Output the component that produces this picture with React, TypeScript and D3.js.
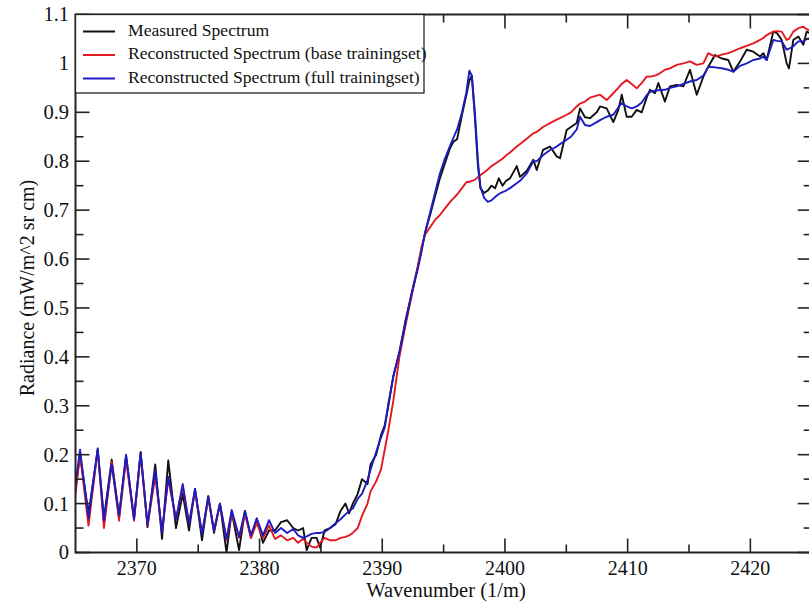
import React from "react";
import * as d3 from "d3";

const wavenumber = [
  2365.0, 2365.37, 2366.06, 2366.81, 2367.32, 2367.95, 2368.55, 2369.12, 2369.77, 2370.31,
  2370.87, 2371.5, 2372.05, 2372.56, 2373.19, 2373.74, 2374.25, 2374.74, 2375.31, 2375.82,
  2376.29, 2376.77, 2377.31, 2377.73, 2378.33, 2378.81, 2379.3, 2379.77, 2380.28, 2380.77,
  2381.26, 2381.75, 2382.25, 2382.74, 2383.14, 2383.55, 2383.84, 2384.24, 2384.65, 2384.94,
  2385.3, 2385.75, 2386.2, 2386.6, 2387.0, 2387.3, 2387.6, 2388.0, 2388.35, 2388.8,
  2389.05, 2389.5, 2389.9, 2390.2,
  2390.5, 2390.9, 2391.4, 2391.9, 2392.4, 2392.9, 2393.2, 2393.5, 2393.9, 2394.3,
  2394.7, 2395.1, 2395.5, 2395.8, 2396.1, 2396.5, 2396.85, 2397.1, 2397.3, 2397.55,
  2397.8, 2398.0, 2398.3, 2398.6, 2398.9, 2399.2, 2399.5, 2399.8, 2400.1,
  2400.41, 2400.96, 2401.23, 2401.77, 2402.31, 2402.59, 2403.1, 2403.67, 2404.22, 2404.49,
  2405.03, 2405.38, 2405.85, 2406.12, 2406.52, 2406.93, 2407.48, 2407.75, 2408.29, 2408.83,
  2409.24, 2409.52, 2409.92, 2410.33, 2410.74, 2411.15, 2411.55, 2411.82, 2412.23, 2412.5,
  2413.04, 2413.45, 2414.0, 2414.54, 2415.08, 2415.63, 2416.17, 2416.57, 2417.12, 2417.67,
  2418.2, 2418.61, 2419.16, 2419.7, 2420.24, 2420.79, 2421.06, 2421.33, 2421.87, 2422.17,
  2422.56, 2422.96, 2423.15, 2423.5, 2423.91, 2424.32, 2424.59, 2425.0,
];

const measured = [
  0.13, 0.2, 0.08, 0.21, 0.07, 0.19, 0.075, 0.197, 0.07, 0.205,
  0.052, 0.18, 0.028, 0.188, 0.05, 0.12, 0.045, 0.13, 0.025, 0.115,
  0.04, 0.1, 0.0, 0.083, 0.005, 0.085, 0.03, 0.068, 0.02, 0.045,
  0.045, 0.062, 0.066, 0.05, 0.045, 0.05, 0.005, 0.03, 0.03, 0.01,
  0.045, 0.05, 0.058, 0.085, 0.1, 0.08, 0.1, 0.12, 0.15, 0.14,
  0.18, 0.2, 0.24, 0.26,
  0.3, 0.36, 0.41, 0.475, 0.53, 0.585, 0.62, 0.655, 0.69, 0.728,
  0.765, 0.795, 0.825, 0.84, 0.845, 0.895, 0.935, 0.965, 0.975, 0.89,
  0.79, 0.745, 0.735, 0.74, 0.75, 0.745, 0.765, 0.75, 0.76,
  0.765, 0.79, 0.768, 0.78, 0.803, 0.782, 0.823, 0.83, 0.81, 0.806,
  0.864, 0.87, 0.878, 0.908, 0.89, 0.888, 0.9, 0.912, 0.908, 0.88,
  0.905, 0.936, 0.891, 0.891, 0.905, 0.9, 0.93, 0.946, 0.939, 0.96,
  0.922, 0.953, 0.956, 0.953, 0.987, 0.936, 0.973, 0.993, 1.017, 1.01,
  1.007, 0.983, 1.004, 1.028, 1.024, 1.014, 1.021, 1.007, 1.065, 1.062,
  1.048, 1.0, 0.99, 1.048, 1.055, 1.038, 1.065, 1.06,
];

const baseTrainingset = [
  0.12, 0.2, 0.055, 0.21, 0.05, 0.185, 0.065, 0.19, 0.065, 0.2,
  0.055, 0.155, 0.042, 0.15, 0.068, 0.135, 0.06, 0.125, 0.04, 0.11,
  0.045, 0.1, 0.025, 0.082, 0.03, 0.078, 0.03, 0.06, 0.03, 0.055,
  0.028, 0.035, 0.025, 0.03, 0.02, 0.028, 0.02, 0.012, 0.01, 0.02,
  0.03, 0.025, 0.025, 0.03, 0.032, 0.035, 0.04, 0.05, 0.075, 0.1,
  0.125, 0.145, 0.17, 0.21,
  0.25, 0.31, 0.4, 0.465, 0.525, 0.585, 0.625, 0.65, 0.665, 0.68,
  0.69, 0.703, 0.716, 0.724, 0.732, 0.745, 0.757, 0.758, 0.76, 0.762,
  0.768, 0.772, 0.777, 0.783, 0.79, 0.795, 0.8, 0.805, 0.812,
  0.818, 0.83, 0.835, 0.846, 0.857, 0.86, 0.87, 0.878, 0.885, 0.888,
  0.895, 0.9, 0.912, 0.918, 0.922, 0.93, 0.934, 0.936, 0.925, 0.939,
  0.95, 0.958, 0.966, 0.958, 0.949, 0.96, 0.973, 0.973, 0.975, 0.978,
  0.987, 0.99, 0.997, 1.0, 1.004, 0.997, 1.0, 1.021, 1.014, 1.018,
  1.021, 1.025, 1.031, 1.036, 1.041, 1.048, 1.052, 1.058, 1.065, 1.066,
  1.065, 1.048, 1.05, 1.065, 1.072, 1.075, 1.07, 1.065,
];

const fullTrainingset = [
  0.14, 0.21, 0.07, 0.213, 0.065, 0.18, 0.075, 0.2, 0.068, 0.205,
  0.057, 0.168, 0.04, 0.155, 0.068, 0.14, 0.058, 0.13, 0.037, 0.115,
  0.045, 0.1, 0.027, 0.087, 0.032, 0.085, 0.035, 0.07, 0.035, 0.066,
  0.04, 0.05, 0.04, 0.048, 0.035, 0.03, 0.033, 0.038, 0.04, 0.04,
  0.042, 0.05, 0.06, 0.068, 0.078, 0.085, 0.09, 0.11, 0.12, 0.148,
  0.17, 0.205, 0.235, 0.255,
  0.305, 0.36, 0.41, 0.47, 0.53, 0.58, 0.615, 0.655, 0.695, 0.735,
  0.775, 0.805, 0.83, 0.848, 0.865, 0.9, 0.94, 0.985, 0.975, 0.9,
  0.8, 0.748, 0.725, 0.717, 0.72, 0.727, 0.733, 0.737, 0.74,
  0.745, 0.755, 0.76, 0.775, 0.8, 0.8, 0.812, 0.823, 0.83, 0.835,
  0.844, 0.85, 0.865, 0.891, 0.874, 0.872, 0.88, 0.884, 0.891, 0.895,
  0.91, 0.919, 0.912, 0.908, 0.912, 0.92, 0.935, 0.942, 0.944, 0.945,
  0.946, 0.95, 0.953, 0.958, 0.963, 0.966, 0.975, 0.993, 0.992, 0.99,
  0.987, 0.983, 0.995, 1.0, 1.007, 1.01, 1.014, 1.007, 1.048, 1.046,
  1.045, 1.028, 1.03, 1.035, 1.045, 1.045, 1.05, 1.052,
];

const xMajorTicks = [2370, 2380, 2390, 2400, 2410, 2420];
const xMinorTicks = [2375, 2385, 2395, 2405, 2415];
const yMajorTicks = [0, 0.1, 0.2, 0.3, 0.4, 0.5, 0.6, 0.7, 0.8, 0.9, 1, 1.1];
const yMinorTicks = [0.05, 0.15, 0.25, 0.35, 0.45, 0.55, 0.65, 0.75, 0.85, 0.95, 1.05];

const seriesNames = [
  "Measured Spectrum",
  "Reconstructed Spectrum (base trainingset)",
  "Reconstructed Spectrum (full trainingset)",
];
const seriesColors = ["#111111", "#e3191f", "#1c1cc4"];

const FONT = "'Liberation Serif', 'Times New Roman', serif";

export default function App() {
  const W = 809;
  const H = 602;
  const left = 75.5;
  const right = 811.7;
  const top = 14.5;
  const bottom = 552.5;

  const x = d3.scaleLinear().domain([2365, 2425]).range([left, right]);
  const y = d3.scaleLinear().domain([0, 1.1]).range([bottom, top]);

  const line = d3
    .line<number>()
    .x((_, i) => x(wavenumber[i]))
    .y((d) => y(d));

  const seriesData = [measured, baseTrainingset, fullTrainingset];
  const axisColor = "#222";
  const major = 14;
  const minor = 8;
  const fmtY = (v: number) => (v === 0 ? "0" : String(Number(v.toFixed(1))));

  const legendLineY = [31.5, 55, 78.5];
  const legendTextY = [35.5, 59, 82.5];

  return (
    <svg
      width={W}
      height={H}
      style={{ position: "absolute", left: 0, top: 0, background: "#fff" }}
      fontFamily={FONT}
    >
      <defs>
        <clipPath id="plotClip">
          <rect x={left} y={top} width={right - left} height={bottom - top} />
        </clipPath>
      </defs>
      <rect x={0} y={0} width={W} height={H} fill="#fff" />

      <g clipPath="url(#plotClip)" fill="none" strokeWidth={1.9} strokeLinejoin="round">
        {seriesData.map((s, i) => (
          <path key={i} d={line(s) || ""} stroke={seriesColors[i]} />
        ))}
      </g>

      {/* frame */}
      <rect
        x={left}
        y={top}
        width={right - left}
        height={bottom - top}
        fill="none"
        stroke={axisColor}
        strokeWidth={2}
      />

      {/* ticks */}
      <g stroke={axisColor} strokeWidth={1.6}>
        {xMajorTicks.map((t) => (
          <g key={"xm" + t}>
            <line x1={x(t)} x2={x(t)} y1={bottom} y2={bottom - major} />
            <line x1={x(t)} x2={x(t)} y1={top} y2={top + major} />
          </g>
        ))}
        {xMinorTicks.map((t) => (
          <g key={"xn" + t}>
            <line x1={x(t)} x2={x(t)} y1={bottom} y2={bottom - minor} />
            <line x1={x(t)} x2={x(t)} y1={top} y2={top + minor} />
          </g>
        ))}
        {yMajorTicks.map((t) => (
          <g key={"ym" + t}>
            <line x1={left} x2={left + major} y1={y(t)} y2={y(t)} />
            <line x1={right} x2={right - major} y1={y(t)} y2={y(t)} />
          </g>
        ))}
        {yMinorTicks.map((t) => (
          <g key={"yn" + t}>
            <line x1={left} x2={left + minor} y1={y(t)} y2={y(t)} />
            <line x1={right} x2={right - minor} y1={y(t)} y2={y(t)} />
          </g>
        ))}
      </g>

      {/* tick labels */}
      <g fill="#111">
        {xMajorTicks.map((t) => (
          <text key={"xl" + t} x={x(t)} y={574.8} textAnchor="middle" fontSize={20}>
            {t}
          </text>
        ))}
        {yMajorTicks.map((t) => (
          <text key={"yl" + t} x={69} y={y(t)} dy="0.34em" textAnchor="end" fontSize={20.5}>
            {fmtY(t)}
          </text>
        ))}
      </g>

      {/* axis titles */}
      <text x={446} y={597.3} textAnchor="middle" fontSize={20.5} fill="#111">
        Wavenumber (1/m)
      </text>
      <text
        transform={`translate(34, 288) rotate(-90)`}
        textAnchor="middle"
        fontSize={20}
        fill="#111"
      >
        Radiance (mW/m^2 sr cm)
      </text>

      {/* legend */}
      <rect x={left} y={top} width={348.5} height={78.5} fill="#fff" stroke={axisColor} strokeWidth={1.3} />
      {seriesNames.map((name, i) => (
        <g key={name}>
          <line
            x1={83}
            x2={115}
            y1={legendLineY[i]}
            y2={legendLineY[i]}
            stroke={seriesColors[i]}
            strokeWidth={2}
          />
          <text x={128} y={legendTextY[i]} fontSize={17.6} fill="#111">
            {name}
          </text>
        </g>
      ))}
    </svg>
  );
}
